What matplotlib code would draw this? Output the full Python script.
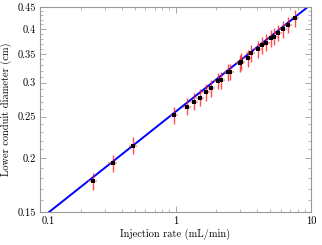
import numpy as np
import matplotlib
matplotlib.use("Agg")
import matplotlib.pyplot as plt
from matplotlib.ticker import FixedLocator, NullFormatter
from matplotlib.transforms import ScaledTranslation

# measured injection rates (mL/min) and lower conduit diameters (cm)
rate = [0.245, 0.344, 0.488, 0.975, 1.22, 1.37, 1.52, 1.67, 1.83, 2.07, 2.16,
        2.45, 2.53, 2.99, 3.04, 3.41, 3.59, 4.09, 4.33, 4.65, 5.07, 5.33,
        5.74, 6.18, 6.80, 7.62]
diam = [0.177, 0.195, 0.214, 0.252, 0.264, 0.271, 0.277, 0.285, 0.291, 0.303, 0.304,
        0.317, 0.318, 0.333, 0.336, 0.342, 0.351, 0.359, 0.367, 0.372, 0.381, 0.384,
        0.392, 0.399, 0.409, 0.424]

# fit d = a * Q^b
fit_a = 0.2566
fit_b = 0.25

xticks = [0.1, 1, 10]
xticklabels = ["0.1", "1", "10"]
yticks = [0.15, 0.2, 0.25, 0.3, 0.35, 0.4, 0.45]
yticklabels = ["0.15", "0.2", "0.25", "0.3", "0.35", "0.4", "0.45"]

plt.rcParams['font.family'] = 'serif'
plt.rcParams['font.serif'] = ['cmr10', 'DejaVu Serif']
plt.rcParams['axes.formatter.use_mathtext'] = True

fig = plt.figure(figsize=(3.22, 2.45), dpi=100)
ax = fig.add_axes([40 / 322, 1 - 212 / 245, 271 / 322, 205 / 245])

rate = np.array(rate)
diam = np.array(diam)

qq = np.logspace(-1, 1, 200)
ax.plot(qq, fit_a * qq ** fit_b, color='#0000ff', lw=1.4, zorder=2)

# horizontal bars lighter, vertical bars stronger red
ax.errorbar(rate, diam, xerr=0.07 * rate, fmt='none',
            ecolor='#ff5050', elinewidth=1.2, alpha=0.6, zorder=3)
ax.errorbar(rate, diam, yerr=0.045 * diam, fmt='none',
            ecolor='#ff1010', elinewidth=1.0, alpha=0.75, zorder=3)
ax.plot(rate, diam, 's', color='black', ms=2.2, mew=0, zorder=4)

ax.set_xscale('log')
ax.set_yscale('log')
ax.set_xlim(0.1, 10)
ax.set_ylim(0.15, 0.45)

ax.xaxis.set_major_locator(FixedLocator(xticks))
ax.set_xticklabels(xticklabels)
ax.xaxis.set_minor_locator(FixedLocator([m * 10.0 ** e for e in (-1, 0) for m in range(2, 10)]))
ax.xaxis.set_minor_formatter(NullFormatter())

ax.yaxis.set_major_locator(FixedLocator(yticks))
ax.set_yticklabels(yticklabels)
ax.yaxis.set_minor_locator(FixedLocator(np.round(np.arange(0.16, 0.45, 0.01), 2)))
ax.yaxis.set_minor_formatter(NullFormatter())

for sp in ax.spines.values():
    sp.set_color('#999999')
    sp.set_linewidth(0.8)
ax.tick_params(which='both', direction='in', top=True, right=True, color='#999999',
               labelsize=7.5, pad=3)
ax.tick_params(which='major', length=4, width=0.6)
ax.tick_params(which='minor', length=2, width=0.5)

# first x label sits a little to the right of its tick, as in the original
lbl = ax.get_xticklabels()[0]
lbl.set_transform(lbl.get_transform() + ScaledTranslation(8 / 100, 0, fig.dpi_scale_trans))

ax.set_xlabel('Injection rate (mL/min)', fontsize=7.5, labelpad=2)
ax.set_ylabel('Lower conduit diameter (cm)', fontsize=7.5, labelpad=4)

fig.savefig('out.png', dpi=100)
